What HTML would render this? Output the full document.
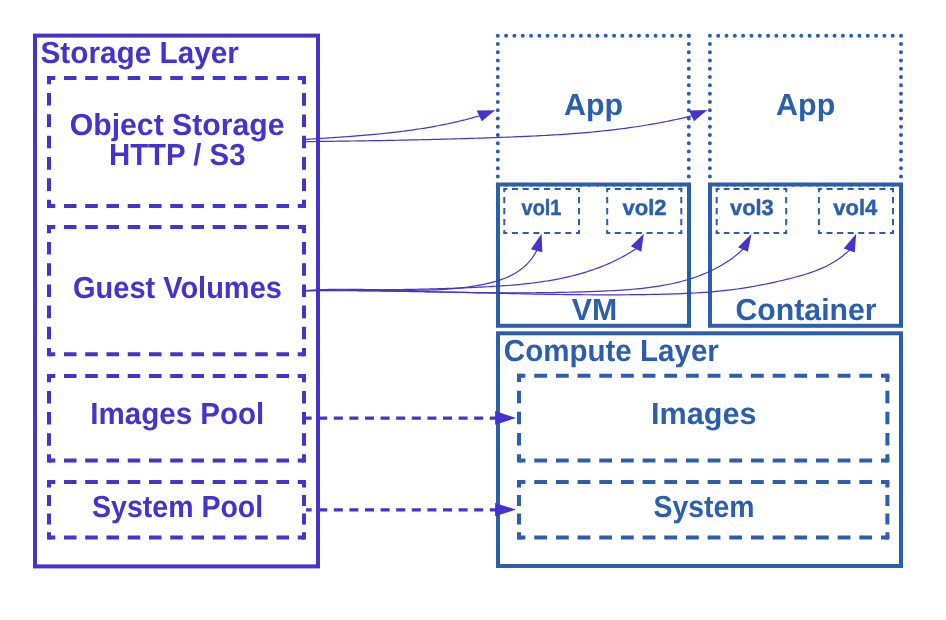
<!DOCTYPE html>
<html><head><meta charset="utf-8"><style>
html,body{margin:0;padding:0;background:#fff;width:946px;height:620px;overflow:hidden}
svg{display:block;will-change:transform}
text{font-family:"Liberation Sans",sans-serif;font-weight:bold;text-rendering:geometricPrecision}
</style></head><body>
<svg width="946" height="620" viewBox="0 0 946 620">
<rect width="946" height="620" fill="#fff"/>
<rect x="35" y="35.6" width="283.00" height="530.80" stroke="#4433cc" stroke-width="4" fill="none"/>
<path d="M49.00 78.00L304.00 78.00" stroke="#4433cc" stroke-width="4" stroke-dasharray="12.537 8.713" stroke-dashoffset="6.269" fill="none"/>
<path d="M304.00 78.00L304.00 206.00" stroke="#4433cc" stroke-width="4" stroke-dasharray="12.587 8.747" stroke-dashoffset="6.293" fill="none"/>
<path d="M304.00 206.00L49.00 206.00" stroke="#4433cc" stroke-width="4" stroke-dasharray="12.537 8.713" stroke-dashoffset="6.269" fill="none"/>
<path d="M49.00 206.00L49.00 78.00" stroke="#4433cc" stroke-width="4" stroke-dasharray="12.587 8.747" stroke-dashoffset="6.293" fill="none"/>
<rect x="47.00" y="76.00" width="4" height="4" fill="#4433cc"/>
<rect x="302.00" y="76.00" width="4" height="4" fill="#4433cc"/>
<rect x="302.00" y="204.00" width="4" height="4" fill="#4433cc"/>
<rect x="47.00" y="204.00" width="4" height="4" fill="#4433cc"/>
<path d="M49.00 227.00L304.00 227.00" stroke="#4433cc" stroke-width="4" stroke-dasharray="12.537 8.713" stroke-dashoffset="6.269" fill="none"/>
<path d="M304.00 227.00L304.00 354.30" stroke="#4433cc" stroke-width="4" stroke-dasharray="12.518 8.699" stroke-dashoffset="6.259" fill="none"/>
<path d="M304.00 354.30L49.00 354.30" stroke="#4433cc" stroke-width="4" stroke-dasharray="12.537 8.713" stroke-dashoffset="6.269" fill="none"/>
<path d="M49.00 354.30L49.00 227.00" stroke="#4433cc" stroke-width="4" stroke-dasharray="12.518 8.699" stroke-dashoffset="6.259" fill="none"/>
<rect x="47.00" y="225.00" width="4" height="4" fill="#4433cc"/>
<rect x="302.00" y="225.00" width="4" height="4" fill="#4433cc"/>
<rect x="302.00" y="352.30" width="4" height="4" fill="#4433cc"/>
<rect x="47.00" y="352.30" width="4" height="4" fill="#4433cc"/>
<path d="M49.00 376.00L304.00 376.00" stroke="#4433cc" stroke-width="4" stroke-dasharray="12.537 8.713" stroke-dashoffset="6.269" fill="none"/>
<path d="M304.00 376.00L304.00 460.60" stroke="#4433cc" stroke-width="4" stroke-dasharray="12.479 8.672" stroke-dashoffset="6.239" fill="none"/>
<path d="M304.00 460.60L49.00 460.60" stroke="#4433cc" stroke-width="4" stroke-dasharray="12.537 8.713" stroke-dashoffset="6.269" fill="none"/>
<path d="M49.00 460.60L49.00 376.00" stroke="#4433cc" stroke-width="4" stroke-dasharray="12.479 8.672" stroke-dashoffset="6.239" fill="none"/>
<rect x="47.00" y="374.00" width="4" height="4" fill="#4433cc"/>
<rect x="302.00" y="374.00" width="4" height="4" fill="#4433cc"/>
<rect x="302.00" y="458.60" width="4" height="4" fill="#4433cc"/>
<rect x="47.00" y="458.60" width="4" height="4" fill="#4433cc"/>
<path d="M49.00 482.00L304.00 482.00" stroke="#4433cc" stroke-width="4" stroke-dasharray="12.537 8.713" stroke-dashoffset="6.269" fill="none"/>
<path d="M304.00 482.00L304.00 537.60" stroke="#4433cc" stroke-width="4" stroke-dasharray="10.935 7.599" stroke-dashoffset="5.467" fill="none"/>
<path d="M304.00 537.60L49.00 537.60" stroke="#4433cc" stroke-width="4" stroke-dasharray="12.537 8.713" stroke-dashoffset="6.269" fill="none"/>
<path d="M49.00 537.60L49.00 482.00" stroke="#4433cc" stroke-width="4" stroke-dasharray="10.935 7.599" stroke-dashoffset="5.467" fill="none"/>
<rect x="47.00" y="480.00" width="4" height="4" fill="#4433cc"/>
<rect x="302.00" y="480.00" width="4" height="4" fill="#4433cc"/>
<rect x="302.00" y="535.60" width="4" height="4" fill="#4433cc"/>
<rect x="47.00" y="535.60" width="4" height="4" fill="#4433cc"/>
<path d="M497.80 35.70L688.80 35.70" stroke="#2c5fab" stroke-width="4" stroke-linecap="round" stroke-dasharray="0 8.304" fill="none"/>
<path d="M688.80 35.70L688.80 184.70" stroke="#2c5fab" stroke-width="4" stroke-linecap="round" stroke-dasharray="0 8.278" fill="none"/>
<path d="M688.80 184.70L497.80 184.70" stroke="#2c5fab" stroke-width="4" stroke-linecap="round" stroke-dasharray="0 8.304" fill="none"/>
<path d="M497.80 184.70L497.80 35.70" stroke="#2c5fab" stroke-width="4" stroke-linecap="round" stroke-dasharray="0 8.278" fill="none"/>
<path d="M709.90 35.70L901.00 35.70" stroke="#2c5fab" stroke-width="4" stroke-linecap="round" stroke-dasharray="0 8.309" fill="none"/>
<path d="M901.00 35.70L901.00 184.70" stroke="#2c5fab" stroke-width="4" stroke-linecap="round" stroke-dasharray="0 8.278" fill="none"/>
<path d="M901.00 184.70L709.90 184.70" stroke="#2c5fab" stroke-width="4" stroke-linecap="round" stroke-dasharray="0 8.309" fill="none"/>
<path d="M709.90 184.70L709.90 35.70" stroke="#2c5fab" stroke-width="4" stroke-linecap="round" stroke-dasharray="0 8.278" fill="none"/>
<rect x="498" y="184.5" width="191.00" height="141.30" stroke="#2c5fab" stroke-width="4" fill="none"/>
<rect x="710" y="184.5" width="191.00" height="141.30" stroke="#2c5fab" stroke-width="4" fill="none"/>
<path d="M504.30 189.00L579.00 189.00" stroke="#2c5fab" stroke-width="2" stroke-dasharray="6.083 4.589" stroke-dashoffset="3.041" fill="none"/>
<path d="M579.00 189.00L579.00 233.10" stroke="#2c5fab" stroke-width="2" stroke-dasharray="6.284 4.741" stroke-dashoffset="3.142" fill="none"/>
<path d="M579.00 233.10L504.30 233.10" stroke="#2c5fab" stroke-width="2" stroke-dasharray="6.083 4.589" stroke-dashoffset="3.041" fill="none"/>
<path d="M504.30 233.10L504.30 189.00" stroke="#2c5fab" stroke-width="2" stroke-dasharray="6.284 4.741" stroke-dashoffset="3.142" fill="none"/>
<rect x="503.30" y="188.00" width="2" height="2" fill="#2c5fab"/>
<rect x="578.00" y="188.00" width="2" height="2" fill="#2c5fab"/>
<rect x="578.00" y="232.10" width="2" height="2" fill="#2c5fab"/>
<rect x="503.30" y="232.10" width="2" height="2" fill="#2c5fab"/>
<path d="M607.20 189.00L681.30 189.00" stroke="#2c5fab" stroke-width="2" stroke-dasharray="6.034 4.552" stroke-dashoffset="3.017" fill="none"/>
<path d="M681.30 189.00L681.30 233.10" stroke="#2c5fab" stroke-width="2" stroke-dasharray="6.284 4.741" stroke-dashoffset="3.142" fill="none"/>
<path d="M681.30 233.10L607.20 233.10" stroke="#2c5fab" stroke-width="2" stroke-dasharray="6.034 4.552" stroke-dashoffset="3.017" fill="none"/>
<path d="M607.20 233.10L607.20 189.00" stroke="#2c5fab" stroke-width="2" stroke-dasharray="6.284 4.741" stroke-dashoffset="3.142" fill="none"/>
<rect x="606.20" y="188.00" width="2" height="2" fill="#2c5fab"/>
<rect x="680.30" y="188.00" width="2" height="2" fill="#2c5fab"/>
<rect x="680.30" y="232.10" width="2" height="2" fill="#2c5fab"/>
<rect x="606.20" y="232.10" width="2" height="2" fill="#2c5fab"/>
<path d="M716.70 189.00L786.20 189.00" stroke="#2c5fab" stroke-width="2" stroke-dasharray="5.659 4.269" stroke-dashoffset="2.830" fill="none"/>
<path d="M786.20 189.00L786.20 233.10" stroke="#2c5fab" stroke-width="2" stroke-dasharray="6.284 4.741" stroke-dashoffset="3.142" fill="none"/>
<path d="M786.20 233.10L716.70 233.10" stroke="#2c5fab" stroke-width="2" stroke-dasharray="5.659 4.269" stroke-dashoffset="2.830" fill="none"/>
<path d="M716.70 233.10L716.70 189.00" stroke="#2c5fab" stroke-width="2" stroke-dasharray="6.284 4.741" stroke-dashoffset="3.142" fill="none"/>
<rect x="715.70" y="188.00" width="2" height="2" fill="#2c5fab"/>
<rect x="785.20" y="188.00" width="2" height="2" fill="#2c5fab"/>
<rect x="785.20" y="232.10" width="2" height="2" fill="#2c5fab"/>
<rect x="715.70" y="232.10" width="2" height="2" fill="#2c5fab"/>
<path d="M818.90 189.00L893.00 189.00" stroke="#2c5fab" stroke-width="2" stroke-dasharray="6.034 4.552" stroke-dashoffset="3.017" fill="none"/>
<path d="M893.00 189.00L893.00 233.10" stroke="#2c5fab" stroke-width="2" stroke-dasharray="6.284 4.741" stroke-dashoffset="3.142" fill="none"/>
<path d="M893.00 233.10L818.90 233.10" stroke="#2c5fab" stroke-width="2" stroke-dasharray="6.034 4.552" stroke-dashoffset="3.017" fill="none"/>
<path d="M818.90 233.10L818.90 189.00" stroke="#2c5fab" stroke-width="2" stroke-dasharray="6.284 4.741" stroke-dashoffset="3.142" fill="none"/>
<rect x="817.90" y="188.00" width="2" height="2" fill="#2c5fab"/>
<rect x="892.00" y="188.00" width="2" height="2" fill="#2c5fab"/>
<rect x="892.00" y="232.10" width="2" height="2" fill="#2c5fab"/>
<rect x="817.90" y="232.10" width="2" height="2" fill="#2c5fab"/>
<rect x="498" y="333.3" width="403.00" height="232.70" stroke="#2c5fab" stroke-width="4" fill="none"/>
<path d="M519.00 375.70L887.40 375.70" stroke="#2c5fab" stroke-width="4" stroke-dasharray="12.786 8.885" stroke-dashoffset="6.393" fill="none"/>
<path d="M887.40 375.70L887.40 460.50" stroke="#2c5fab" stroke-width="4" stroke-dasharray="12.508 8.692" stroke-dashoffset="6.254" fill="none"/>
<path d="M887.40 460.50L519.00 460.50" stroke="#2c5fab" stroke-width="4" stroke-dasharray="12.786 8.885" stroke-dashoffset="6.393" fill="none"/>
<path d="M519.00 460.50L519.00 375.70" stroke="#2c5fab" stroke-width="4" stroke-dasharray="12.508 8.692" stroke-dashoffset="6.254" fill="none"/>
<rect x="517.00" y="373.70" width="4" height="4" fill="#2c5fab"/>
<rect x="885.40" y="373.70" width="4" height="4" fill="#2c5fab"/>
<rect x="885.40" y="458.50" width="4" height="4" fill="#2c5fab"/>
<rect x="517.00" y="458.50" width="4" height="4" fill="#2c5fab"/>
<path d="M519.00 482.00L887.40 482.00" stroke="#2c5fab" stroke-width="4" stroke-dasharray="12.786 8.885" stroke-dashoffset="6.393" fill="none"/>
<path d="M887.40 482.00L887.40 537.60" stroke="#2c5fab" stroke-width="4" stroke-dasharray="10.935 7.599" stroke-dashoffset="5.467" fill="none"/>
<path d="M887.40 537.60L519.00 537.60" stroke="#2c5fab" stroke-width="4" stroke-dasharray="12.786 8.885" stroke-dashoffset="6.393" fill="none"/>
<path d="M519.00 537.60L519.00 482.00" stroke="#2c5fab" stroke-width="4" stroke-dasharray="10.935 7.599" stroke-dashoffset="5.467" fill="none"/>
<rect x="517.00" y="480.00" width="4" height="4" fill="#2c5fab"/>
<rect x="885.40" y="480.00" width="4" height="4" fill="#2c5fab"/>
<rect x="885.40" y="535.60" width="4" height="4" fill="#2c5fab"/>
<rect x="517.00" y="535.60" width="4" height="4" fill="#2c5fab"/>
<text x="40.53" y="62.7" font-size="30.5" fill="#4433cc" textLength="198.29" lengthAdjust="spacingAndGlyphs">Storage Layer</text>
<text x="69.71" y="134.6" font-size="30.5" fill="#4433cc" textLength="214.93" lengthAdjust="spacingAndGlyphs">Object Storage</text>
<text x="108.97" y="165.1" font-size="30.5" fill="#4433cc" textLength="136.51" lengthAdjust="spacingAndGlyphs">HTTP / S3</text>
<text x="73.05" y="297.8" font-size="30.5" fill="#4433cc" textLength="208.84" lengthAdjust="spacingAndGlyphs">Guest Volumes</text>
<text x="90.36" y="424.2" font-size="30.5" fill="#4433cc" textLength="173.85" lengthAdjust="spacingAndGlyphs">Images Pool</text>
<text x="92.06" y="517.1" font-size="30.5" fill="#4433cc" textLength="171.16" lengthAdjust="spacingAndGlyphs">System Pool</text>
<text x="564.01" y="115.2" font-size="30.5" fill="#2c5fab" textLength="58.98" lengthAdjust="spacingAndGlyphs">App</text>
<text x="776.1" y="115.2" font-size="30.5" fill="#2c5fab" textLength="59.19" lengthAdjust="spacingAndGlyphs">App</text>
<text x="521.6" y="215.1" font-size="22" fill="#2c5fab" stroke="#2c5fab" stroke-width="0.45" textLength="39.83" lengthAdjust="spacingAndGlyphs">vol1</text>
<text x="622.5" y="215.3" font-size="22" fill="#2c5fab" stroke="#2c5fab" stroke-width="0.45" textLength="44.13" lengthAdjust="spacingAndGlyphs">vol2</text>
<text x="730.0" y="215.1" font-size="22" fill="#2c5fab" stroke="#2c5fab" stroke-width="0.45" textLength="43.72" lengthAdjust="spacingAndGlyphs">vol3</text>
<text x="833.3" y="215.1" font-size="22" fill="#2c5fab" stroke="#2c5fab" stroke-width="0.45" textLength="43.93" lengthAdjust="spacingAndGlyphs">vol4</text>
<text x="571.8" y="320.0" font-size="30.5" fill="#2c5fab" textLength="45.33" lengthAdjust="spacingAndGlyphs">VM</text>
<text x="735.51" y="319.9" font-size="30.5" fill="#2c5fab" textLength="141.13" lengthAdjust="spacingAndGlyphs">Container</text>
<text x="503.83" y="360.5" font-size="30.5" fill="#2c5fab" textLength="215.0" lengthAdjust="spacingAndGlyphs">Compute Layer</text>
<text x="650.99" y="424.2" font-size="30.5" fill="#2c5fab" textLength="105.54" lengthAdjust="spacingAndGlyphs">Images</text>
<text x="653.47" y="516.8" font-size="30.5" fill="#2c5fab" textLength="101.04" lengthAdjust="spacingAndGlyphs">System</text>
<path d="M306.10 139.40 L307.57 139.30 L309.03 139.21 L310.50 139.11 L311.97 139.01 L313.44 138.92 L314.90 138.82 L316.37 138.73 L317.84 138.63 L319.31 138.53 L320.78 138.44 L322.25 138.34 L323.72 138.24 L325.19 138.15 L326.66 138.05 L328.13 137.95 L329.60 137.85 L331.07 137.75 L332.54 137.66 L334.01 137.56 L335.48 137.45 L336.95 137.35 L338.43 137.25 L339.90 137.15 L341.37 137.04 L342.84 136.94 L344.31 136.83 L345.78 136.73 L347.25 136.62 L348.73 136.51 L350.20 136.40 L351.67 136.29 L353.14 136.17 L354.61 136.06 L356.08 135.95 L357.55 135.83 L359.03 135.71 L360.50 135.59 L361.97 135.47 L363.44 135.35 L364.91 135.22 L366.38 135.10 L367.85 134.97 L369.32 134.84 L370.79 134.71 L372.26 134.57 L373.73 134.44 L375.20 134.30 L376.67 134.16 L378.14 134.02 L379.61 133.87 L381.07 133.73 L382.54 133.58 L384.01 133.43 L385.48 133.27 L386.94 133.12 L388.41 132.96 L389.88 132.80 L391.34 132.63 L392.81 132.47 L394.27 132.30 L395.74 132.13 L397.20 131.95 L398.67 131.78 L400.13 131.60 L401.59 131.41 L403.05 131.23 L404.52 131.04 L405.98 130.85 L407.44 130.65 L408.90 130.45 L410.36 130.25 L411.82 130.05 L413.27 129.84 L414.73 129.63 L416.19 129.41 L417.65 129.20 L419.10 128.97 L420.56 128.75 L422.01 128.52 L423.47 128.29 L424.92 128.05 L426.37 127.81 L427.82 127.57 L429.27 127.32 L430.73 127.07 L432.17 126.81 L433.62 126.55 L435.07 126.29 L436.52 126.02 L437.97 125.75 L439.41 125.47 L440.86 125.19 L442.30 124.90 L443.74 124.61 L445.19 124.32 L446.63 124.02 L448.07 123.72 L449.51 123.41 L450.95 123.10 L452.38 122.78 L453.82 122.46 L455.26 122.13 L456.69 121.80 L458.12 121.46 L459.56 121.12 L460.99 120.78 L462.42 120.43 L463.85 120.07 L465.28 119.71 L466.70 119.34 L468.13 118.97 L469.56 118.59 L470.98 118.21 L472.40 117.82 L473.82 117.43 L475.25 117.03 L476.66 116.63 L478.08 116.22 L479.50 115.80 L483.26 114.45" stroke="#4433cc" stroke-width="1.2" fill="none"/>
<polygon points="495.1,110.18400000000001 476.656,110.608 481.74399999999997,121.208" fill="#4433cc"/>
<path d="M306.10 141.60 L309.36 141.56 L312.61 141.53 L315.87 141.49 L319.12 141.45 L322.38 141.41 L325.63 141.37 L328.89 141.33 L332.14 141.29 L335.39 141.25 L338.65 141.21 L341.90 141.16 L345.16 141.12 L348.41 141.07 L351.67 141.02 L354.92 140.98 L358.18 140.93 L361.43 140.88 L364.69 140.82 L367.94 140.77 L371.20 140.72 L374.45 140.66 L377.71 140.61 L380.96 140.55 L384.21 140.49 L387.47 140.43 L390.72 140.37 L393.98 140.31 L397.23 140.24 L400.49 140.18 L403.74 140.11 L407.00 140.04 L410.25 139.97 L413.51 139.90 L416.76 139.83 L420.02 139.76 L423.28 139.68 L426.53 139.61 L429.79 139.53 L433.04 139.45 L436.30 139.36 L439.56 139.28 L442.81 139.20 L446.07 139.11 L449.32 139.02 L452.58 138.93 L455.84 138.84 L459.09 138.75 L462.35 138.65 L465.61 138.55 L468.87 138.45 L472.12 138.35 L475.38 138.25 L478.64 138.14 L481.90 138.04 L485.16 137.93 L488.41 137.82 L491.67 137.70 L494.93 137.59 L498.19 137.47 L501.45 137.35 L504.71 137.23 L507.97 137.11 L511.23 136.98 L514.49 136.85 L517.75 136.72 L521.01 136.58 L524.27 136.44 L527.53 136.29 L530.78 136.14 L534.04 135.99 L537.30 135.83 L540.56 135.66 L543.81 135.49 L547.07 135.31 L550.32 135.12 L553.58 134.93 L556.83 134.73 L560.08 134.53 L563.34 134.31 L566.59 134.09 L569.84 133.86 L573.08 133.62 L576.33 133.37 L579.58 133.11 L582.82 132.84 L586.06 132.57 L589.30 132.28 L592.54 131.98 L595.78 131.67 L599.02 131.35 L602.25 131.02 L605.48 130.67 L608.71 130.32 L611.94 129.95 L615.17 129.57 L618.39 129.18 L621.61 128.77 L624.83 128.35 L628.05 127.91 L631.27 127.46 L634.48 127.00 L637.69 126.52 L640.89 126.03 L644.10 125.52 L647.30 124.99 L650.50 124.45 L653.70 123.89 L656.89 123.32 L660.08 122.73 L663.27 122.12 L666.45 121.49 L669.63 120.85 L672.81 120.18 L675.98 119.50 L679.15 118.80 L682.32 118.08 L685.48 117.34 L688.64 116.58 L691.80 115.80 L695.56 114.42" stroke="#4433cc" stroke-width="1.2" fill="none"/>
<polygon points="707.4,110.08 688.956,110.61 694.0440000000001,121.21" fill="#4433cc"/>
<path d="M306.00 290.60 L308.02 290.44 L310.04 290.29 L312.06 290.16 L314.08 290.03 L316.11 289.92 L318.14 289.81 L320.17 289.72 L322.20 289.63 L324.23 289.56 L326.26 289.49 L328.30 289.43 L330.34 289.38 L332.37 289.34 L334.41 289.31 L336.45 289.28 L338.50 289.26 L340.54 289.25 L342.59 289.25 L344.63 289.25 L346.68 289.25 L348.73 289.26 L350.78 289.28 L352.83 289.30 L354.88 289.32 L356.93 289.35 L358.98 289.38 L361.04 289.42 L363.09 289.45 L365.15 289.49 L367.20 289.54 L369.26 289.58 L371.32 289.62 L373.37 289.67 L375.43 289.72 L377.49 289.77 L379.55 289.81 L381.61 289.86 L383.67 289.91 L385.73 289.95 L387.79 290.00 L389.85 290.04 L391.91 290.08 L393.97 290.12 L396.03 290.16 L398.09 290.19 L400.15 290.22 L402.21 290.24 L404.27 290.27 L406.33 290.28 L408.39 290.30 L410.44 290.30 L412.50 290.31 L414.56 290.30 L416.62 290.29 L418.68 290.27 L420.73 290.25 L422.79 290.22 L424.84 290.18 L426.90 290.14 L428.95 290.08 L431.01 290.02 L433.06 289.95 L435.11 289.87 L437.16 289.78 L439.21 289.67 L441.26 289.56 L443.30 289.44 L445.35 289.31 L447.40 289.17 L449.44 289.01 L451.48 288.84 L453.52 288.66 L455.56 288.47 L457.60 288.26 L459.64 288.04 L461.67 287.81 L463.71 287.56 L465.74 287.30 L467.77 287.03 L469.80 286.74 L471.83 286.43 L473.85 286.11 L475.88 285.77 L477.90 285.41 L479.92 285.04 L481.94 284.65 L483.95 284.24 L485.96 283.81 L487.96 283.36 L489.96 282.89 L491.94 282.38 L493.91 281.85 L495.87 281.29 L497.82 280.70 L499.74 280.08 L501.65 279.42 L503.54 278.72 L505.41 277.99 L507.25 277.21 L509.07 276.39 L510.87 275.53 L512.63 274.62 L514.37 273.67 L516.07 272.66 L517.74 271.60 L519.37 270.49 L520.97 269.33 L522.53 268.11 L524.05 266.83 L525.53 265.49 L526.97 264.08 L528.36 262.62 L529.70 261.08 L531.00 259.48 L532.25 257.81 L533.44 256.07 L534.58 254.26 L535.67 252.37 L536.70 250.40 L537.83 246.56" stroke="#4433cc" stroke-width="1.2" fill="none"/>
<polygon points="541.588,233.76 530.882,249.13 542.33,252.31" fill="#4433cc"/>
<path d="M306.00 290.60 L308.84 290.56 L311.67 290.53 L314.50 290.49 L317.34 290.46 L320.17 290.43 L323.00 290.40 L325.83 290.37 L328.66 290.34 L331.50 290.31 L334.33 290.28 L337.16 290.25 L339.99 290.22 L342.81 290.20 L345.64 290.17 L348.47 290.14 L351.30 290.11 L354.13 290.09 L356.96 290.06 L359.78 290.03 L362.61 290.00 L365.44 289.97 L368.27 289.94 L371.09 289.91 L373.92 289.88 L376.75 289.85 L379.57 289.82 L382.40 289.78 L385.23 289.75 L388.06 289.71 L390.88 289.67 L393.71 289.63 L396.54 289.59 L399.37 289.55 L402.19 289.50 L405.02 289.45 L407.85 289.40 L410.68 289.35 L413.51 289.30 L416.34 289.24 L419.17 289.18 L422.00 289.12 L424.83 289.06 L427.66 288.99 L430.50 288.92 L433.33 288.85 L436.16 288.77 L439.00 288.69 L441.83 288.61 L444.67 288.53 L447.50 288.44 L450.34 288.35 L453.18 288.25 L456.02 288.15 L458.85 288.04 L461.69 287.94 L464.53 287.82 L467.38 287.71 L470.22 287.59 L473.06 287.46 L475.91 287.33 L478.75 287.20 L481.60 287.06 L484.45 286.92 L487.29 286.77 L490.14 286.61 L492.99 286.45 L495.84 286.27 L498.69 286.09 L501.53 285.90 L504.38 285.70 L507.22 285.49 L510.06 285.27 L512.90 285.04 L515.74 284.79 L518.58 284.53 L521.41 284.25 L524.24 283.96 L527.06 283.66 L529.88 283.33 L532.70 282.99 L535.52 282.64 L538.32 282.26 L541.13 281.86 L543.92 281.45 L546.72 281.01 L549.50 280.55 L552.28 280.07 L555.06 279.57 L557.82 279.04 L560.58 278.49 L563.34 277.92 L566.08 277.32 L568.82 276.69 L571.54 276.03 L574.26 275.35 L576.98 274.64 L579.68 273.90 L582.37 273.13 L585.05 272.32 L587.72 271.49 L590.39 270.63 L593.04 269.73 L595.68 268.80 L598.31 267.83 L600.93 266.83 L603.53 265.79 L606.13 264.72 L608.71 263.61 L611.28 262.46 L613.83 261.28 L616.38 260.05 L618.90 258.79 L621.42 257.48 L623.92 256.13 L626.41 254.74 L628.88 253.31 L631.33 251.84 L633.78 250.32 L636.20 248.75 L638.01 245.18" stroke="#4433cc" stroke-width="1.2" fill="none"/>
<polygon points="643.792,233.826 630.8599999999999,246.33399999999997 641.248,251.74" fill="#4433cc"/>
<path d="M306.00 290.60 L309.78 290.58 L313.56 290.57 L317.34 290.56 L321.12 290.56 L324.89 290.57 L328.66 290.57 L332.43 290.59 L336.20 290.60 L339.97 290.63 L343.73 290.65 L347.49 290.68 L351.25 290.71 L355.01 290.75 L358.76 290.79 L362.52 290.83 L366.27 290.87 L370.02 290.92 L373.77 290.97 L377.52 291.02 L381.26 291.08 L385.01 291.13 L388.75 291.19 L392.50 291.25 L396.24 291.31 L399.98 291.37 L403.72 291.43 L407.46 291.50 L411.20 291.56 L414.94 291.63 L418.68 291.69 L422.42 291.75 L426.15 291.82 L429.89 291.88 L433.62 291.95 L437.36 292.01 L441.10 292.07 L444.83 292.13 L448.57 292.19 L452.31 292.25 L456.04 292.30 L459.78 292.36 L463.51 292.41 L467.25 292.46 L470.99 292.50 L474.73 292.55 L478.47 292.59 L482.20 292.63 L485.94 292.66 L489.69 292.70 L493.43 292.72 L497.17 292.75 L500.91 292.77 L504.66 292.78 L508.40 292.80 L512.15 292.80 L515.90 292.81 L519.65 292.80 L523.40 292.80 L527.15 292.78 L530.91 292.77 L534.67 292.74 L538.42 292.71 L542.18 292.68 L545.94 292.63 L549.71 292.59 L553.47 292.53 L557.24 292.47 L561.01 292.40 L564.78 292.32 L568.56 292.24 L572.34 292.15 L576.12 292.05 L579.90 291.94 L583.68 291.83 L587.47 291.70 L591.26 291.57 L595.05 291.43 L598.85 291.28 L602.65 291.12 L606.45 290.96 L610.25 290.77 L614.05 290.57 L617.85 290.36 L621.65 290.12 L625.44 289.86 L629.23 289.57 L633.01 289.26 L636.79 288.91 L640.55 288.53 L644.31 288.12 L648.06 287.67 L651.79 287.17 L655.51 286.64 L659.21 286.06 L662.90 285.43 L666.57 284.75 L670.22 284.02 L673.86 283.23 L677.47 282.38 L681.06 281.48 L684.62 280.51 L688.17 279.47 L691.68 278.37 L695.17 277.20 L698.63 275.95 L702.07 274.63 L705.47 273.24 L708.84 271.76 L712.17 270.20 L715.48 268.55 L718.74 266.81 L721.96 264.98 L725.14 263.05 L728.27 261.02 L731.35 258.89 L734.37 256.64 L737.34 254.28 L740.25 251.80 L743.10 249.20 L745.03 245.70" stroke="#4433cc" stroke-width="1.2" fill="none"/>
<polygon points="751.6279999999999,233.704 738.06,247.166 747.812,251.83" fill="#4433cc"/>
<path d="M306.00 290.60 L310.63 290.55 L315.27 290.51 L319.90 290.48 L324.54 290.45 L329.17 290.44 L333.81 290.43 L338.45 290.43 L343.08 290.44 L347.72 290.45 L352.36 290.47 L357.00 290.50 L361.64 290.54 L366.28 290.58 L370.92 290.63 L375.56 290.68 L380.20 290.74 L384.84 290.81 L389.48 290.87 L394.12 290.95 L398.76 291.03 L403.40 291.11 L408.04 291.20 L412.68 291.29 L417.33 291.38 L421.97 291.48 L426.61 291.57 L431.25 291.68 L435.90 291.78 L440.54 291.89 L445.18 291.99 L449.83 292.10 L454.47 292.21 L459.11 292.33 L463.75 292.44 L468.40 292.55 L473.04 292.66 L477.68 292.78 L482.33 292.89 L486.97 293.00 L491.61 293.11 L496.25 293.22 L500.90 293.33 L505.54 293.44 L510.18 293.54 L514.82 293.64 L519.46 293.74 L524.10 293.84 L528.75 293.94 L533.39 294.03 L538.03 294.12 L542.67 294.20 L547.31 294.28 L551.95 294.35 L556.59 294.43 L561.23 294.49 L565.86 294.55 L570.50 294.61 L575.14 294.66 L579.78 294.70 L584.42 294.74 L589.05 294.77 L593.69 294.80 L598.32 294.82 L602.96 294.83 L607.59 294.83 L612.23 294.83 L616.86 294.81 L621.49 294.79 L626.13 294.76 L630.76 294.72 L635.39 294.68 L640.02 294.62 L644.65 294.56 L649.28 294.48 L653.91 294.39 L658.53 294.30 L663.16 294.19 L667.79 294.07 L672.41 293.94 L677.04 293.79 L681.66 293.63 L686.28 293.44 L690.91 293.22 L695.53 292.98 L700.15 292.70 L704.78 292.39 L709.40 292.04 L714.02 291.64 L718.65 291.20 L723.27 290.72 L727.90 290.18 L732.52 289.60 L737.14 288.97 L741.75 288.29 L746.37 287.56 L750.97 286.79 L755.58 285.98 L760.17 285.13 L764.76 284.23 L769.33 283.29 L773.90 282.30 L778.46 281.28 L783.00 280.22 L787.53 279.12 L792.05 277.98 L796.55 276.79 L801.03 275.55 L805.46 274.23 L809.86 272.82 L814.19 271.30 L818.47 269.65 L822.68 267.87 L826.80 265.93 L830.83 263.82 L834.77 261.52 L838.60 259.01 L842.31 256.28 L845.90 253.32 L849.35 250.10 L850.88 246.40" stroke="#4433cc" stroke-width="1.2" fill="none"/>
<polygon points="856.162,233.668 843.654,248.402 854.784,252.43" fill="#4433cc"/>
<path d="M306 418.2L496 418.2" stroke="#4433cc" stroke-width="3.2" stroke-dasharray="9 6.6" stroke-dashoffset="3.4" fill="none"/>
<polygon points="516,418 495.1,411.1 495.1,424.8" fill="#4433cc"/>
<path d="M306 509.8L496 509.8" stroke="#4433cc" stroke-width="3.2" stroke-dasharray="9 6.6" stroke-dashoffset="3.4" fill="none"/>
<polygon points="516,509.6 495.1,502.9 495.1,516.3" fill="#4433cc"/>
</svg>
</body></html>
